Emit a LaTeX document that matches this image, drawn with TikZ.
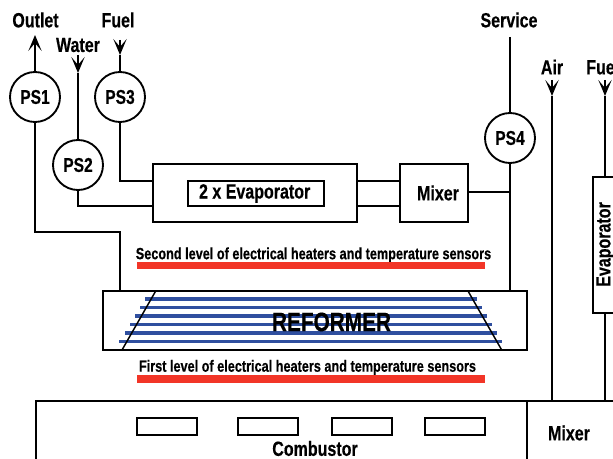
\documentclass[tikz,border=0pt]{standalone}
\usepackage{fontspec}
\setmainfont[FakeStretch=0.78,BoldFeatures={FakeBold=0.4}]{Liberation Sans}
\usetikzlibrary{arrows.meta,calc}
\definecolor{heater}{HTML}{F23527}
\definecolor{tube}{HTML}{2F4F9F}
\def\u{0.75pt}
\tikzset{
  every node/.style={font=\bfseries},
  wire/.style={line width=1.6pt,line cap=butt},
  flow/.style={wire,-{Stealth[length=12pt,width=10pt,inset=6pt]}},
  thin box/.style={draw,line width=1.4pt,inner sep=0pt,fill=none},
  sensor/.style={draw,circle,line width=1.4pt,inner sep=0pt,minimum size=50*\u,font=\bfseries\fontsize{15}{17}\selectfont},
  lab/.style={inner sep=0pt,font=\bfseries\fontsize{15.4}{17}\selectfont},
  small/.style={inner sep=0pt,font=\bfseries\fontsize{12.2}{14}\selectfont},
  tubeline/.style={tube,line width=2.5pt},
  heaterbar/.style={fill=heater,draw=none,inner sep=0pt,minimum height=7.5*\u},
}
\begin{document}
\begin{tikzpicture}[x=0.75pt,y=-0.75pt]
\useasboundingbox (0,0) rectangle (613,459);
% sensors
\node[sensor] (ps1) at (35,97) {PS1};
\node[sensor] (ps2) at (78,165) {PS2};
\node[sensor] (ps3) at (120,97) {PS3};
\node[sensor] (ps4) at (510,138) {PS4};
% boxes
\node[thin box,minimum width=204*\u,minimum height=58*\u] (evapouter) at (255,193) {};
\node[thin box,minimum width=136*\u,minimum height=25*\u,font=\bfseries\fontsize{15.4}{17}\selectfont] (evapinner) at (256,193.5) {\hspace*{-2pt}2 x Evaporator};
\node[thin box,minimum width=68*\u,minimum height=58*\u,font=\bfseries\fontsize{15.4}{17}\selectfont] (mixa) at (434,193) {\hspace*{6pt}Mixer};
\node[thin box,minimum width=424*\u,minimum height=59*\u] (reformer) at (315,320.5) {};
\node[thin box,minimum width=40*\u,minimum height=136*\u] (evapside) at (613,245) {};
% reformer internals
\foreach \y/\a/\b in {299/145/477,307.7/140/482,316/135/487,324.7/130/492,333/125/497,341.3/119/502}
  \draw[tubeline] (\a,\y) -- (\b,\y);
\coordinate (tl) at (155.7,291); \coordinate (bl) at (122,350);
\coordinate (tr) at (468,291); \coordinate (br) at (501.7,350);
\draw[line width=1.1pt] (tl) -- (bl);
\draw[line width=1.1pt] (tr) -- (br);
\node[inner sep=0pt,font=\bfseries\fontsize{20}{22}\selectfont] (reftext) at (331.5,322) {REFORMER};
% heaters
\node[small] (second) at (313.5,255) {Second level of electrical heaters and temperature sensors};
\node[heaterbar,minimum width=348*\u] (bar2) at (311,265.5) {};
\node[small] (first) at (307.5,367.5) {First level of electrical heaters and temperature sensors};
\node[heaterbar,minimum width=348*\u] (bar1) at (311,379) {};
% combustor
\coordinate (cbl) at (36,459); \coordinate (ctl) at (36,401);
\coordinate (ctm) at (527,401); \coordinate (cbm) at (527,459); \coordinate (ctr) at (613,401);
\draw[wire] (cbl) -- (ctl) -- (ctr);
\draw[wire] (ctm) -- (cbm);
\foreach \n/\x in {a/167,b/268,c/362,d/455}
  \node[thin box,minimum width=60*\u,minimum height=17*\u] (burner\n) at (\x,426.5) {};
\node[lab] (comb) at (315,448.5) {Combustor};
\node[lab] (mixb) at (569,433) {Mixer};
% labels
\node[lab] (outlet) at (35.5,20) {Outlet};
\node[lab] (water) at (78,45) {Water};
\node[lab] (fuel) at (118,20) {Fuel};
\node[lab] (service) at (509,20) {Service};
\node[lab] (air) at (552,67) {Air};
\node[lab,anchor=west] (fuelb) at (586,67) {Fuel};
\node[lab,rotate=90] (evapsidetext) at (605.5,244.5) {Evaporator};
% connectors
\coordinate (outtip) at (35,35);
\draw[flow] (ps1.north) -- (outtip);
\coordinate (wtop) at (78,55); \coordinate (wtip) at (78,73);
\draw[flow] (wtop) -- (wtip);
\draw[wire] (wtip) -- (ps2.north);
\coordinate (ftop) at (120,40); \coordinate (ftip) at (120,55);
\draw[flow] (ftop) -- (ftip);
\draw[wire] (ftip) -- (ps3.north);
\coordinate (a1) at (120,181); \coordinate (a2) at (78,206);
\coordinate (e1) at (153,181); \coordinate (e2) at (153,206);
\draw[wire] (ps3.south) -- (a1) -- (e1);
\draw[wire] (ps2.south) -- (a2) -- (e2);
\coordinate (e3) at (357,181); \coordinate (e4) at (357,206);
\coordinate (m1) at (400,181); \coordinate (m2) at (400,206);
\draw[wire] (e3) -- (m1);
\draw[wire] (e4) -- (m2);
\coordinate (m3) at (468,192); \coordinate (j) at (510,192);
\draw[wire] (m3) -- (j);
\coordinate (stop) at (510,37);
\draw[wire] (stop) -- (ps4.north);
\coordinate (rtop) at (510,291);
\draw[wire] (ps4.south) -- (rtop);
\coordinate (b1) at (35,232); \coordinate (b2) at (120,232); \coordinate (b3) at (120,291);
\draw[wire] (ps1.south) -- (b1) -- (b2) -- (b3);
\coordinate (atop) at (552,80); \coordinate (atip) at (552,96); \coordinate (abot) at (552,401);
\draw[flow] (atop) -- (atip);
\draw[wire] (atip) -- (abot);
\coordinate (fbtop) at (605,80); \coordinate (fbtip) at (605,96); \coordinate (fbbox) at (605,177);
\draw[flow] (fbtop) -- (fbtip);
\draw[wire] (fbtip) -- (fbbox);
\coordinate (ebot) at (605,313); \coordinate (ebase) at (605,401);
\draw[wire] (ebot) -- (ebase);
\end{tikzpicture}
\end{document}
